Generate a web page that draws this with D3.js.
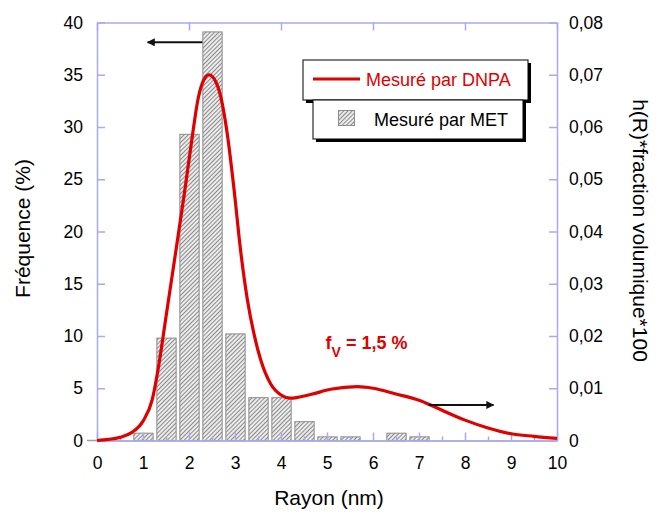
<!DOCTYPE html>
<html><head><meta charset="utf-8">
<script src="https://cdn.jsdelivr.net/npm/d3@7"></script>
<style>
body{margin:0;background:#fff;}
svg{font-family:"Liberation Sans",Arial,sans-serif;}
</style></head>
<body><svg id="c" width="656" height="512"></svg>
<script>
// ---- data ----
const barRadius = [1.0, 1.5, 2.0, 2.5, 3.0, 3.5, 4.0, 4.5, 5.0, 5.5, 6.5, 7.0];
const barFrequency = [0.7, 9.8, 29.3, 39.1, 10.2, 4.1, 4.1, 1.8, 0.35, 0.35, 0.7, 0.35];
const curveRadius = [0, 0.25, 0.5, 0.75, 1.0, 1.2, 1.35, 1.5, 1.65, 1.9, 2.07, 2.2, 2.32, 2.43, 2.54, 2.69, 2.83, 2.98, 3.12, 3.27, 3.41, 3.56, 3.77, 4.0, 4.2, 4.64, 5.08, 5.66, 6.0, 6.5, 7.0, 7.25, 7.5, 8.0, 8.5, 9.0, 9.5, 10.0];
const curveValue = [0, 0.0002, 0.0006, 0.0015, 0.0037, 0.0078, 0.0148, 0.0237, 0.0325, 0.0473, 0.0581, 0.0655, 0.0690, 0.0700, 0.0693, 0.0658, 0.0588, 0.0480, 0.0365, 0.0269, 0.0205, 0.0154, 0.0109, 0.0087, 0.0081, 0.0088, 0.0098, 0.0103, 0.0100, 0.0089, 0.0077, 0.0068, 0.0058, 0.0039, 0.0024, 0.0013, 0.0008, 0.0004];
const xTicks = [0,1,2,3,4,5,6,7,8,9,10];
const xMinorTicks = [0.5,1.5,2.5,3.5,4.5,5.5,6.5,7.5,8.5,9.5];
const xTopTicks = [0,2,4,6,8,10];
const leftTicks = [0,5,10,15,20,25,30,35,40];
const rightTicks = [0,0.01,0.02,0.03,0.04,0.05,0.06,0.07,0.08];
const legendLabels = ["Mesuré par DNPA", "Mesuré par MET"];

// ---- layout ----
const L = 97, R = 557, T = 22.5, B = 440.5;
const axisColor = "#a9a9f2";
const red = "#e00000";
const svg = d3.select("#c");

const x = d3.scaleLinear().domain([0,10]).range([L,R]);
const yL = d3.scaleLinear().domain([0,40]).range([B,T]);
const yR = d3.scaleLinear().domain([0,0.08]).range([B,T]);

const defs = svg.append("defs");
const pat = defs.append("pattern").attr("id","hatch").attr("width",3).attr("height",3)
  .attr("patternUnits","userSpaceOnUse").attr("patternTransform","rotate(45)");
pat.append("rect").attr("width",3).attr("height",3).attr("fill","#ececec");
pat.append("line").attr("x1",0.5).attr("y1",0).attr("x2",0.5).attr("y2",3)
  .attr("stroke","#8a8a8a").attr("stroke-width",1);

// bars
const bw = 0.21;
svg.append("g").selectAll("rect").data(barRadius).join("rect")
  .attr("x", (d)=>x(d-bw)+0.5)
  .attr("width", x(bw*2)-x(0))
  .attr("y", (d,i)=>yL(barFrequency[i]))
  .attr("height", (d,i)=>yL(0)-yL(barFrequency[i]))
  .attr("fill","url(#hatch)").attr("stroke","#8c8c8c").attr("stroke-width",1);

function styleAxis(g){
  g.select(".domain").attr("stroke",axisColor).attr("stroke-width",1.5);
  g.selectAll(".tick line").attr("stroke",axisColor).attr("stroke-width",1.5);
  g.selectAll("text").attr("font-size",17.5).attr("fill","#000");
}
// bottom minor
svg.append("g").attr("transform",`translate(0,${B})`)
  .call(d3.axisBottom(x).tickValues(xMinorTicks).tickSize(-4).tickSizeOuter(0).tickFormat(""))
  .call(styleAxis);
// bottom major
svg.append("g").attr("transform",`translate(0,${B})`)
  .call(d3.axisBottom(x).tickValues(xTicks).tickSizeInner(-8).tickSizeOuter(0).tickPadding(16.5).tickFormat(d3.format("d")))
  .call(styleAxis);
// top
svg.append("g").attr("transform",`translate(0,${T})`)
  .call(d3.axisTop(x).tickValues(xTopTicks).tickSizeInner(-8).tickSizeOuter(0).tickFormat(""))
  .call(styleAxis);
// left
svg.append("g").attr("transform",`translate(${L},0)`)
  .call(d3.axisLeft(yL).tickValues(leftTicks).tickSizeInner(-8).tickSizeOuter(0).tickPadding(14).tickFormat(d3.format("d")))
  .call(styleAxis);
// right
svg.append("g").attr("transform",`translate(${R},0)`)
  .call(d3.axisRight(yR).tickValues(rightTicks).tickSizeInner(-8).tickSizeOuter(0).tickPadding(12)
    .tickFormat(d=> d===0 ? "0" : d3.format(".2f")(d).replace(".",",")))
  .call(styleAxis);
// small gray stub at origin
svg.append("line").attr("x1",L-10).attr("x2",L).attr("y1",B).attr("y2",B)
  .attr("stroke","#a0a0a0").attr("stroke-width",1.5);

// curve
const line = d3.line().x((d,i)=>x(curveRadius[i])).y((d,i)=>yR(curveValue[i])).curve(d3.curveMonotoneX);
svg.append("path").datum(curveRadius).attr("d",line)
  .attr("fill","none").attr("stroke",red).attr("stroke-width",3.2).attr("stroke-linejoin","round");

// arrows
defs.append("marker").attr("id","ah").attr("viewBox","0 0 10 10").attr("refX",9).attr("refY",5)
  .attr("markerWidth",5).attr("markerHeight",4).attr("orient","auto-start-reverse")
  .attr("markerUnits","strokeWidth")
  .append("path").attr("d","M0,0 L10,5 L0,10 Z").attr("fill","#111");
svg.append("line").attr("x1",x(2.29)).attr("x2",x(1.1)).attr("y1",yL(38.1)).attr("y2",yL(38.1))
  .attr("stroke","#111").attr("stroke-width",2).attr("marker-end","url(#ah)");
svg.append("line").attr("x1",x(7.21)).attr("x2",x(8.62)).attr("y1",yR(0.0068)).attr("y2",yR(0.0068))
  .attr("stroke","#111").attr("stroke-width",2).attr("marker-end","url(#ah)");

// fv annotation
const fv = svg.append("text").attr("x",x(4.97)).attr("y",yL(8.75))
  .attr("fill",red).attr("font-weight","bold").attr("font-size",18);
fv.append("tspan").text("f");
fv.append("tspan").attr("dy",8).attr("font-size",14).text("V");
fv.append("tspan").attr("dy",-8).text(" = 1,5 %");

// legend
const lg = svg.append("g");
lg.append("rect").attr("x",306).attr("y",63).attr("width",225).attr("height",40).attr("fill","#000");
lg.append("rect").attr("x",303).attr("y",60).attr("width",225).attr("height",40).attr("fill","#fff").attr("stroke","#000").attr("stroke-width",1);
lg.append("rect").attr("x",316).attr("y",103).attr("width",210).attr("height",39).attr("fill","#000");
lg.append("rect").attr("x",313).attr("y",100).attr("width",210).attr("height",39).attr("fill","#fff").attr("stroke","#000").attr("stroke-width",1);
lg.append("line").attr("x1",313).attr("x2",360).attr("y1",79).attr("y2",79).attr("stroke",red).attr("stroke-width",3);
lg.append("text").attr("x",366).attr("y",86).attr("font-size",18).attr("fill",red).text(legendLabels[0]);
lg.append("rect").attr("x",338.5).attr("y",110.5).attr("width",16).attr("height",15).attr("fill","url(#hatch)").attr("stroke","#8c8c8c");
lg.append("text").attr("x",374).attr("y",126).attr("font-size",18).attr("fill","#000").text(legendLabels[1]);

// axis titles
svg.append("text").attr("x",(L+R)/2+2).attr("y",505).attr("text-anchor","middle").attr("font-size",21).text("Rayon (nm)");
svg.append("text").attr("transform",`translate(30,${(T+B)/2-3}) rotate(-90)`).attr("text-anchor","middle").attr("font-size",21).text("Fréquence (%)");
svg.append("text").attr("transform",`translate(633,${(T+B)/2-1}) rotate(90)`).attr("text-anchor","middle").attr("font-size",21).text("h(R)*fraction volumique*100");
</script></body></html>
